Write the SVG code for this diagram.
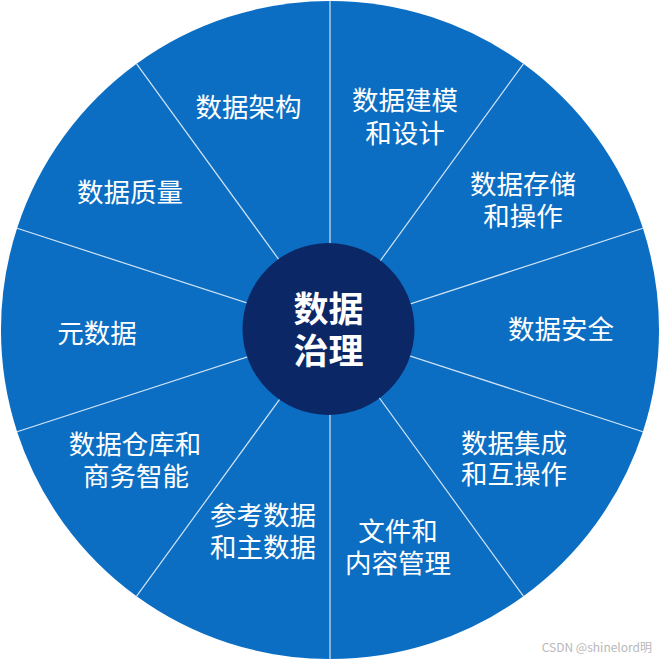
<svg xmlns="http://www.w3.org/2000/svg" width="660" height="660" viewBox="0 0 660 660">
<style>
.sec{fill:#0b6ec3;stroke:none}
.lbl{font-family:"Noto Sans CJK SC","Noto Sans",sans-serif;font-size:26.5px;fill:#ffffff;text-anchor:middle}
.div{stroke:#cfe2f4;stroke-width:1.2;fill:none}
.hub{fill:#0c2766}
.hubt{font-family:"Noto Sans CJK SC","Noto Sans",sans-serif;font-size:35px;font-weight:bold;fill:#ffffff;text-anchor:middle}
.wm{font-family:"Noto Sans CJK SC","Noto Sans",sans-serif;font-size:12px;fill:#b8b8b8;text-anchor:end}
</style>
<rect width="660" height="660" fill="#ffffff"/>
<g id="node-modeling">
<path class="sec" d="M330,330 L330,1 A329,329 0 0 1 523.4,63.8 Z"/>
<text class="lbl" x="405" y="110">数据建模</text>
<text class="lbl" x="405" y="143">和设计</text>
</g>
<g id="node-storage">
<path class="sec" d="M330,330 L523.4,63.8 A329,329 0 0 1 642.9,228.3 Z"/>
<text class="lbl" x="523" y="194">数据存储</text>
<text class="lbl" x="523" y="226">和操作</text>
</g>
<g id="node-security">
<path class="sec" d="M330,330 L642.9,228.3 A329,329 0 0 1 642.9,431.7 Z"/>
<text class="lbl" x="561" y="339">数据安全</text>
</g>
<g id="node-integration">
<path class="sec" d="M330,330 L642.9,431.7 A329,329 0 0 1 523.4,596.2 Z"/>
<text class="lbl" x="514" y="453">数据集成</text>
<text class="lbl" x="514" y="484">和互操作</text>
</g>
<g id="node-document">
<path class="sec" d="M330,330 L523.4,596.2 A329,329 0 0 1 330,659 Z"/>
<text class="lbl" x="398" y="541">文件和</text>
<text class="lbl" x="398" y="573">内容管理</text>
</g>
<g id="node-reference">
<path class="sec" d="M330,330 L330,659 A329,329 0 0 1 136.6,596.2 Z"/>
<text class="lbl" x="263" y="525">参考数据</text>
<text class="lbl" x="263" y="557">和主数据</text>
</g>
<g id="node-warehouse">
<path class="sec" d="M330,330 L136.6,596.2 A329,329 0 0 1 17.1,431.7 Z"/>
<text class="lbl" x="135" y="454">数据仓库和</text>
<text class="lbl" x="136" y="486">商务智能</text>
</g>
<g id="node-metadata">
<path class="sec" d="M330,330 L17.1,431.7 A329,329 0 0 1 17.1,228.3 Z"/>
<text class="lbl" x="97" y="343">元数据</text>
</g>
<g id="node-quality">
<path class="sec" d="M330,330 L17.1,228.3 A329,329 0 0 1 136.6,63.8 Z"/>
<text class="lbl" x="130" y="202">数据质量</text>
</g>
<g id="node-architecture">
<path class="sec" d="M330,330 L136.6,63.8 A329,329 0 0 1 330,1 Z"/>
<text class="lbl" x="248.5" y="117">数据架构</text>
</g>
<g id="connectors">
<line class="div" x1="330" y1="330" x2="330" y2="1"/>
<line class="div" x1="330" y1="330" x2="523.4" y2="63.8"/>
<line class="div" x1="330" y1="330" x2="642.9" y2="228.3"/>
<line class="div" x1="330" y1="330" x2="642.9" y2="431.7"/>
<line class="div" x1="330" y1="330" x2="523.4" y2="596.2"/>
<line class="div" x1="330" y1="330" x2="330" y2="659"/>
<line class="div" x1="330" y1="330" x2="136.6" y2="596.2"/>
<line class="div" x1="330" y1="330" x2="17.1" y2="431.7"/>
<line class="div" x1="330" y1="330" x2="17.1" y2="228.3"/>
<line class="div" x1="330" y1="330" x2="136.6" y2="63.8"/>
</g>
<g id="node-center">
<circle class="hub" cx="328.5" cy="329" r="86"/>
<text class="hubt" x="328.5" y="322">数据</text>
<text class="hubt" x="328.5" y="364">治理</text>
</g>
<text class="wm" x="652" y="652">CSDN @shinelord明</text>
</svg>
